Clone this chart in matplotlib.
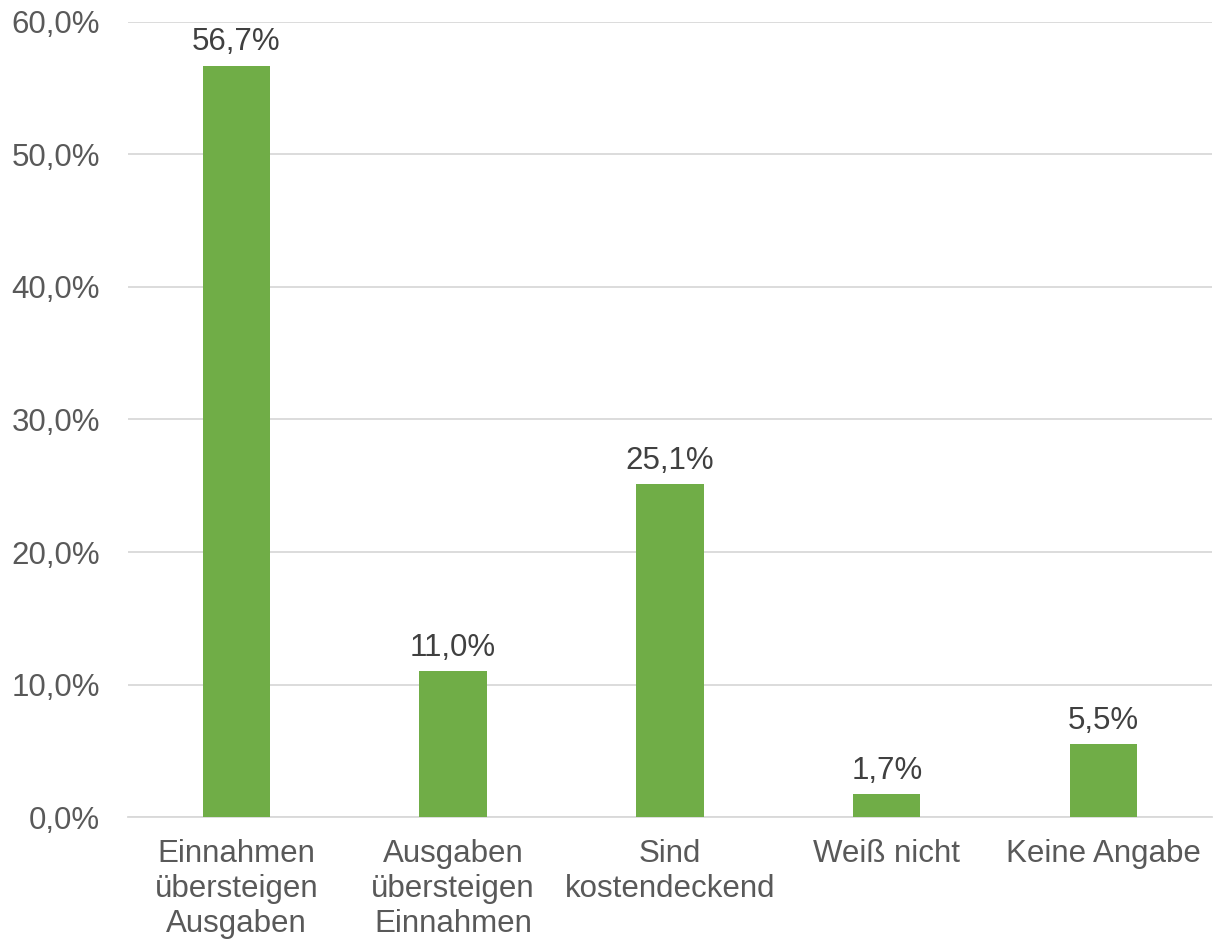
import matplotlib.pyplot as plt
from matplotlib.ticker import FuncFormatter

# Werte aus der Grafik
kategorien = ["Einnahmen\nübersteigen\nAusgaben", "Ausgaben\nübersteigen\nEinnahmen",
              "Sind\nkostendeckend", "Weiß nicht", "Keine Angabe"]
anteile = [56.7, 11.0, 25.1, 1.7, 5.5]
y_ticks = [0, 10, 20, 30, 40, 50, 60]

plt.rcParams['font.family'] = ['Liberation Sans', 'DejaVu Sans']

fig = plt.figure(figsize=(12.17, 9.43), dpi=100)
ax = fig.add_axes([0.105, 0.1336, 0.891, 0.8431])

pos = range(len(kategorien))
bars = ax.bar(pos, anteile, width=0.31, color="#70AD47", zorder=3)

# Datenbeschriftungen im deutschen Format
ax.bar_label(bars, labels=[f"{v:.1f}%".replace(".", ",") for v in anteile],
             padding=6, fontsize=22.5, color="#404040")

ax.set_xlim(-0.5, len(kategorien) - 0.5)
ax.set_ylim(0, 60)
ax.set_yticks(y_ticks)
ax.yaxis.set_major_formatter(FuncFormatter(lambda v, p: f"{v:.1f}%".replace(".", ",")))
ax.set_xticks(list(pos))
ax.set_xticklabels(kategorien, linespacing=1.22)

ax.grid(axis="y", color="#D9D9D9", linewidth=1.3, zorder=0)
for s in ["top", "right", "left"]:
    ax.spines[s].set_visible(False)
ax.spines["bottom"].set_color("#D9D9D9")
ax.spines["bottom"].set_linewidth(1.3)

ax.tick_params(axis="both", length=0, labelsize=22.5, labelcolor="#595959")
ax.tick_params(axis="y", pad=20)
ax.tick_params(axis="x", pad=16)

plt.savefig("out.png", dpi=100)
